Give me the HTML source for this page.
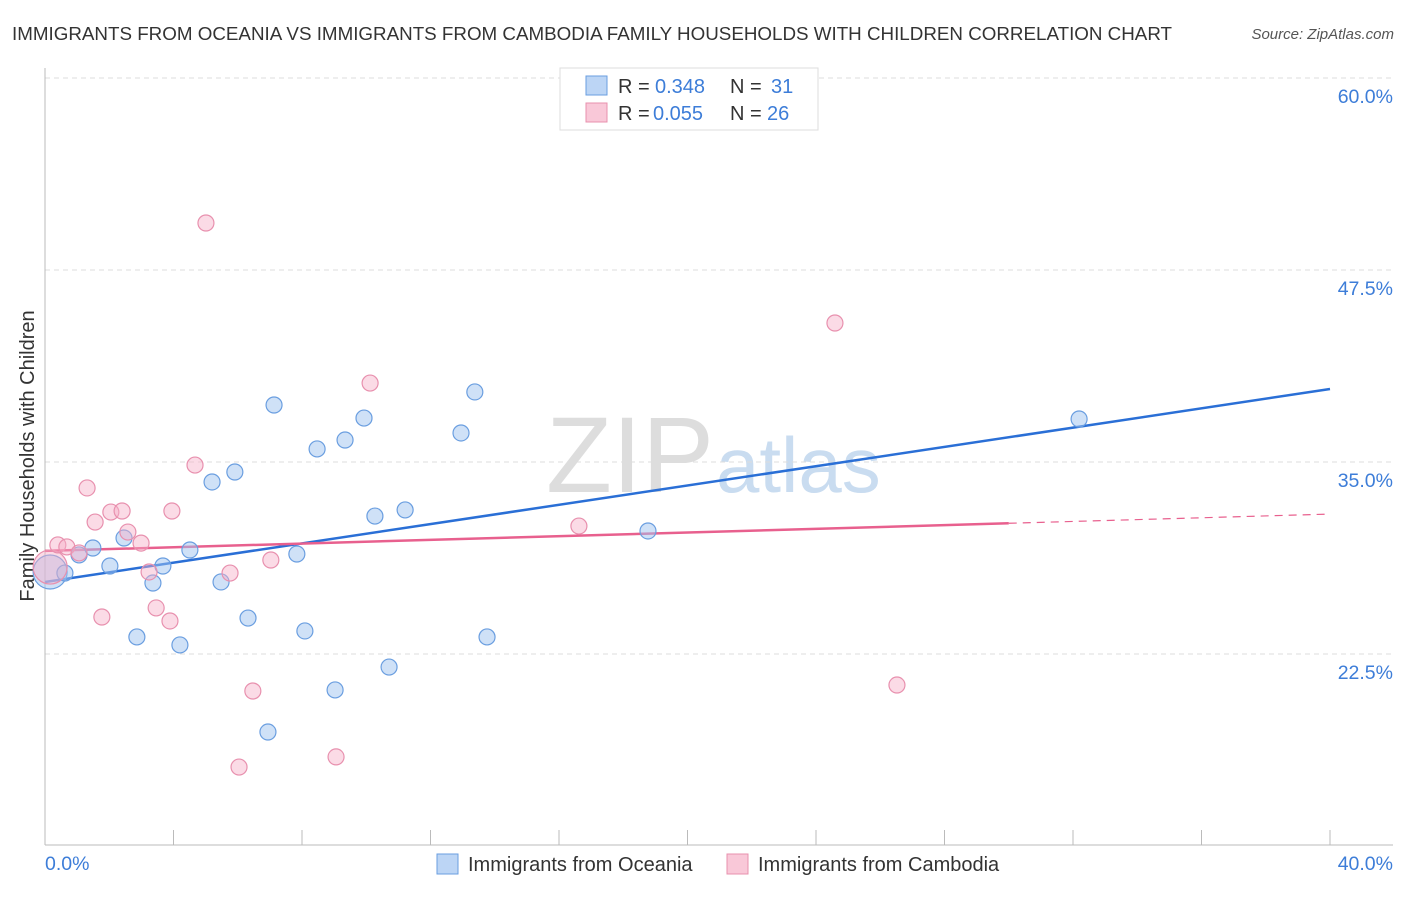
<!DOCTYPE html>
<html><head><meta charset="utf-8"><style>
body{margin:0;background:#fff;font-family:"Liberation Sans",sans-serif;}
svg text{font-family:"Liberation Sans",sans-serif;}
</style></head><body>
<svg width="1406" height="892" viewBox="0 0 1406 892" id="chart">
<text x="12" y="40" font-size="18.8" fill="#333">IMMIGRANTS FROM OCEANIA VS IMMIGRANTS FROM CAMBODIA FAMILY HOUSEHOLDS WITH CHILDREN CORRELATION CHART</text>
<text x="1394" y="39" font-size="15" fill="#555" text-anchor="end" font-style="italic">Source: ZipAtlas.com</text>
<text x="714" y="492" font-size="108" fill="#ddd" text-anchor="end" font-family="Liberation Serif">ZIP</text>
<text x="716" y="492" font-size="78" fill="#c9dcf0">atlas</text>
<text transform="translate(34,456) rotate(-90)" font-size="20" fill="#333" text-anchor="middle">Family Households with Children</text>
<g id="grid"></g><g id="axes"></g><g id="lines"></g><g id="pts"></g>
<g>
<rect x="560" y="68" width="258" height="62" fill="#fff" stroke="#ddd"/>
<rect x="586" y="76" width="21" height="19" fill="#bcd5f5" stroke="#6a9ee0"/>
<rect x="586" y="103" width="21" height="19" fill="#f9c8d8" stroke="#e890ae"/>
<text x="618" y="93" font-size="20" fill="#333">R =</text>
<text x="655" y="93" font-size="20" fill="#3d7dd8">0.348</text>
<text x="730" y="93" font-size="20" fill="#333">N =</text>
<text x="771" y="93" font-size="20" fill="#3d7dd8">31</text>
<text x="618" y="120" font-size="20" fill="#333">R =</text>
<text x="653" y="120" font-size="20" fill="#3d7dd8">0.055</text>
<text x="730" y="120" font-size="20" fill="#333">N =</text>
<text x="767" y="120" font-size="20" fill="#3d7dd8">26</text>
</g>
<g>
<rect x="437" y="854" width="21" height="20" fill="#bcd5f5" stroke="#6a9ee0"/>
<text x="468" y="871" font-size="20" fill="#333">Immigrants from Oceania</text>
<rect x="727" y="854" width="21" height="20" fill="#f9c8d8" stroke="#e890ae"/>
<text x="758" y="871" font-size="20" fill="#333">Immigrants from Cambodia</text>
</g>
</svg>
<script>
const yTicks=[60,47.5,35,22.5];
const yTickLabels=["60.0%","47.5%","35.0%","22.5%"];
const xTickVals=[0,4,8,12,16,20,24,28,32,36,40];
const xEndLabels=["0.0%","40.0%"];
const oceaniaX=[0.16,0.62,1.06,1.49,2.02,2.46,2.86,3.36,3.67,4.20,4.51,5.20,5.48,5.91,6.32,6.94,7.13,7.84,8.09,8.47,9.03,9.34,9.93,10.27,10.71,11.21,12.95,13.38,13.76,18.77,32.19];
const oceaniaY=[27.84,27.77,28.95,29.40,28.23,30.05,23.61,27.12,28.23,23.09,29.27,33.70,27.19,34.35,24.84,17.42,38.71,29.01,24.00,35.85,20.16,36.43,37.86,31.48,21.65,31.88,36.89,39.56,23.61,30.51,37.80];
const cambodiaX=[0.16,0.40,0.68,1.06,1.31,1.56,1.77,2.05,2.40,2.58,2.99,3.24,3.46,3.89,3.95,4.67,5.01,5.76,6.04,6.47,7.03,9.06,10.12,16.62,24.59,26.52];
const cambodiaY=[28.16,29.60,29.47,29.08,33.31,31.09,24.91,31.74,31.81,30.44,29.72,27.84,25.50,24.65,31.81,34.80,50.56,27.77,15.14,20.09,28.62,15.80,40.14,30.83,44.05,20.48];
const oceaniaTrend=[27.19,39.75];
const cambodiaTrend=[29.21,31.61];
const cambodiaSolidEnd=30;
const NS="http://www.w3.org/2000/svg";
const xs=v=>45+v/40*1285;
const ys=v=>78+(60-v)/12.5*192;
function mk(tag,attrs,parent){const e=document.createElementNS(NS,tag);for(const k in attrs)e.setAttribute(k,attrs[k]);document.getElementById(parent).appendChild(e);return e;}
yTicks.forEach((t,i)=>{
 const l=mk('line',{x1:45,x2:1393,y1:ys(t),y2:ys(t),stroke:'#ddd','stroke-dasharray':'5,4'},'grid');
 
 
 const tx=mk('text',{x:1393,y:ys(t)+25,'font-size':19.5,fill:'#3d7dd8','text-anchor':'end'},'grid');
 tx.textContent=yTickLabels[i];
 
 
});
const ax=mk('line',{x1:45,x2:45,y1:68,y2:845,stroke:'#bbb'},'axes');


const bx=mk('line',{x1:45,x2:1393,y1:845,y2:845,stroke:'#bbb'},'axes');


xTickVals.forEach(v=>{const t=mk('line',{x1:xs(v),x2:xs(v),y1:830,y2:845,stroke:'#bbb'},'axes');
 
 });
[[0,'start',45],[40,'end',1393]].forEach((a,i)=>{const t=mk('text',{x:a[2],y:870,'font-size':19.5,fill:'#3d7dd8','text-anchor':a[1]},'axes');t.textContent=xEndLabels[i];
 
 });
function pts(X,Y,fill,stroke,name){X.forEach((x,i)=>{const r=i===0?17:8;
 const c=mk('circle',{cx:xs(x),cy:ys(Y[i]),r:r,fill:fill,stroke:stroke,'stroke-width':1.2},'pts');
 
 });}
pts(oceaniaX,oceaniaY,'rgba(160,196,240,0.5)','#6a9ee0','oceania-point');
pts(cambodiaX,cambodiaY,'rgba(246,176,200,0.45)','#e890ae','cambodia-point');
const bl=mk('line',{x1:xs(0),y1:ys(oceaniaTrend[0]),x2:xs(40),y2:ys(oceaniaTrend[1]),stroke:'#2a6fd6','stroke-width':2.5},'lines');


const pm=v=>cambodiaTrend[0]+(cambodiaTrend[1]-cambodiaTrend[0])*v/40;
const pl=mk('line',{x1:xs(0),y1:ys(pm(0)),x2:xs(cambodiaSolidEnd),y2:ys(pm(cambodiaSolidEnd)),stroke:'#e8608e','stroke-width':2.5},'lines');


const pd=mk('line',{x1:xs(cambodiaSolidEnd),y1:ys(pm(cambodiaSolidEnd)),x2:xs(40),y2:ys(pm(40)),stroke:'#e8608e','stroke-width':1.2,'stroke-dasharray':'8,6'},'lines');


</script>
</body></html>
